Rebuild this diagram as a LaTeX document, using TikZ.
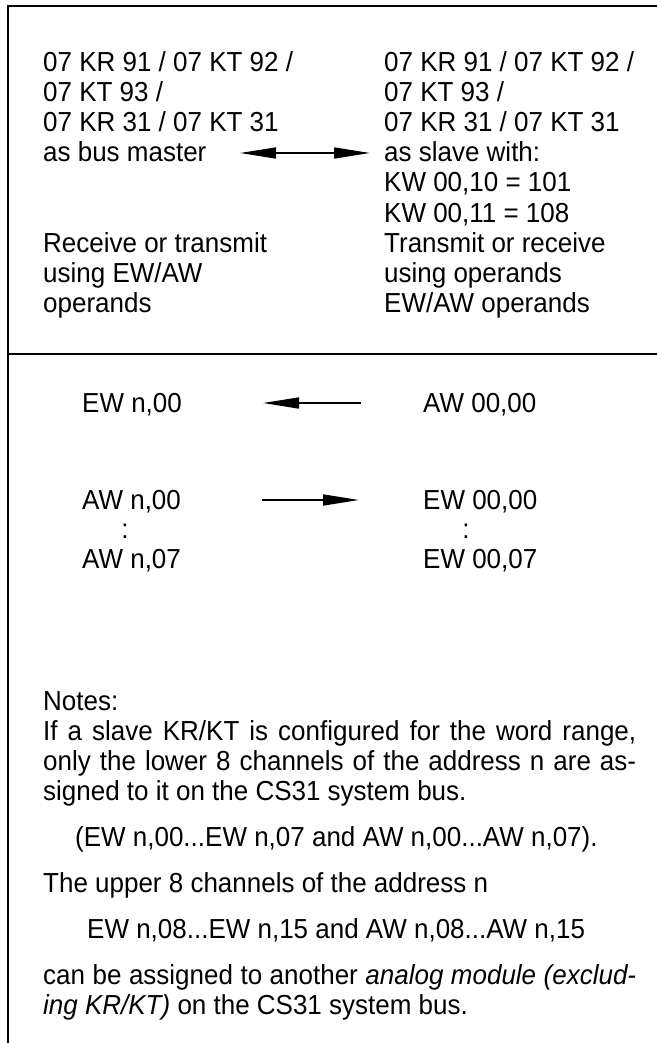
\documentclass[tikz,border=0pt]{standalone}
\usepackage{fontspec}
\setmainfont{Liberation Sans}[FakeStretch=0.945]
\usetikzlibrary{arrows.meta}
\begin{document}
\begin{tikzpicture}[x=1pt,y=-1pt,
  txt/.style={anchor=base west, inner sep=0pt, font=\fontsize{27.5}{30}\selectfont},
  frame/.style={line width=1.8pt, line cap=rect},
  arr/.style={line width=1.6pt, -{Triangle[length=36pt,width=11pt]}},
  darr/.style={line width=1.6pt, {Triangle[length=36pt,width=11pt]}-{Triangle[length=36pt,width=11pt]}}]
\useasboundingbox (0,0) rectangle (656,1043);
% frame
\coordinate (tl) at (8,6);
\coordinate (tr) at (660,6);
\coordinate (bl) at (8,1046);
\coordinate (dl) at (8,354);
\coordinate (dr) at (660,354);
\draw[frame] (tr) -- (tl) -- (bl);
\draw[frame] (dl) -- (dr);
% top left column
\node[txt] (l1) at (43,72) {07 KR 91 / 07 KT 92 /};
\node[txt] (l2) at (43,102) {07 KT 93 /};
\node[txt] (l3) at (43,132) {07 KR 31 / 07 KT 31};
\node[txt] (l4) at (43,162) {as bus master};
\node[txt] (l7) at (43,252) {Receive or transmit};
\node[txt] (l8) at (43,282) {using EW/AW};
\node[txt] (l9) at (43,312) {operands};
% top right column
\node[txt] (r1) at (384,72) {07 KR 91 / 07 KT 92 /};
\node[txt] (r2) at (384,102) {07 KT 93 /};
\node[txt] (r3) at (384,132) {07 KR 31 / 07 KT 31};
\node[txt] (r4) at (384,162) {as slave with:};
\node[txt] (r5) at (384,192) {KW 00,10 = 101};
\node[txt] (r6) at (384,222) {KW 00,11 = 108};
\node[txt] (r7) at (384,252) {Transmit or receive};
\node[txt] (r8) at (384,282) {using operands};
\node[txt] (r9) at (384,312) {EW/AW operands};
\coordinate (ma) at (240,153);
\coordinate (mb) at (370,153);
\draw[darr] (ma) -- (mb);
% lower section
\node[txt] (ew0) at (82,412) {EW n,00};
\node[txt] (aw0s) at (423,412) {AW 00,00};
\node[txt] (aw0) at (82,509) {AW n,00};
\node[txt] (ew0s) at (423,509) {EW 00,00};
\node[txt, anchor=base] (dl1) at (125,538) {:};
\node[txt, anchor=base] (dr1) at (466,538) {:};
\node[txt] (aw7) at (82,568) {AW n,07};
\node[txt] (ew7s) at (423,568) {EW 00,07};
\coordinate (a1s) at (361,403);
\coordinate (a1e) at (263,403);
\draw[arr] (a1s) -- (a1e);
\coordinate (a2s) at (262,500);
\coordinate (a2e) at (359,500);
\draw[arr] (a2s) -- (a2e);
% notes
\node[txt] (n0) at (43,710) {Notes:};
\node[txt] (n1) at (43,740) {\hbox to 593pt{If a slave KR/KT is configured for the word range,}};
\node[txt] (n2) at (43,770) {\hbox to 593pt{only the lower 8 channels of the address n are as-}};
\node[txt] (n3) at (43,800) {signed to it on the CS31 system bus.};
\node[txt] (n4) at (75,846) {(EW n,00...EW n,07 and AW n,00...AW n,07).};
\node[txt] (n5) at (43,892) {The upper 8 channels of the address n};
\node[txt] (n6) at (87,938) {EW n,08...EW n,15 and AW n,08...AW n,15};
\node[txt] (n7) at (43,984) {\hbox to 593pt{can be assigned to another \textit{analog module (exclud-}}};
\node[txt] (n8) at (43,1014) {\textit{ing KR/KT)} on the CS31 system bus.};
\end{tikzpicture}
\end{document}
